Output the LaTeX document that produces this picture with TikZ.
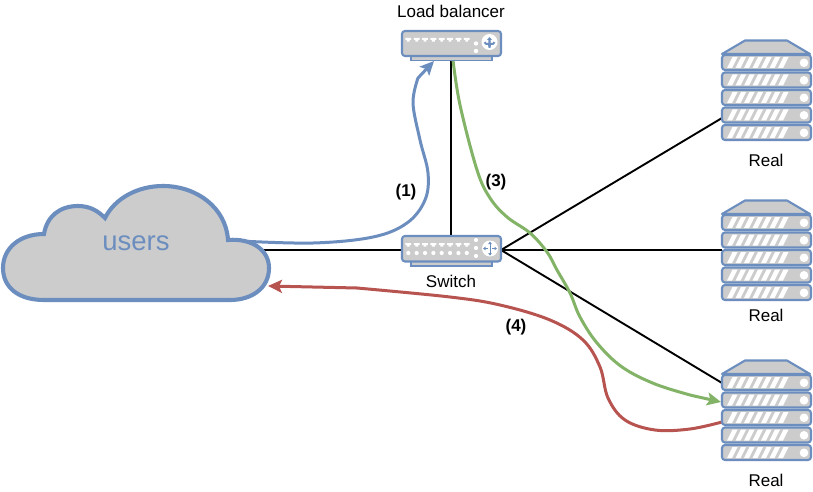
\documentclass[tikz,border=0pt]{standalone}
\usepackage{fontspec}
\setmainfont{Liberation Sans}
\usetikzlibrary{arrows.meta,bending}
\definecolor{bl}{HTML}{6C8EBF}
\definecolor{gr}{HTML}{82B366}
\definecolor{rd}{HTML}{B85450}
\definecolor{fl}{HTML}{CCCCCC}
\tikzset{
  x=1pt,y=-1pt,
  lbl/.style={font=\fontsize{17}{19}\selectfont,inner sep=0pt,text=black},
  num/.style={font=\fontsize{17}{19}\selectfont\bfseries,inner sep=0pt,text=black},
  link/.style={black,line width=1.9pt},
  flow/.style={line width=3pt,line cap=round},
  tip/.style={-{Stealth[length=14pt,width=13pt,inset=3pt]}},
  part/.style={fill=fl,draw=bl,line width=2.1pt,rounded corners=3pt},
  pics/rack/.style={code={
    \draw[fill=fl,draw=bl,line width=2.1pt,line join=round] (722,54)--(745,40.5)--(787,40.5)--(810,54)--cycle;
    \foreach \r in {0,...,4}{
      \pgfmathsetmacro{\yy}{55+17.5*\r}
      \draw[part] (722,\yy) rectangle (811,\yy+15);
      \foreach \k in {0,...,6}{
        \pgfmathsetmacro{\xx}{727+8.5*\k}
        \fill[white] (\xx,\yy+13)--(\xx+5.5,\yy+2)--(\xx+10.5,\yy+2)--(\xx+5,\yy+13)--cycle;
      }
      \fill[white] (804,\yy+7.8) circle[radius=4.3];
    }
  }},
  pics/ports/.style={code={
    \foreach \k in {0,...,7}{
      \pgfmathsetmacro{\xx}{408.3+8.35*\k}
      \fill[white] (\xx-2.9,0)--(\xx+2.9,0)--(\xx+2.9,2)--(\xx+1.4,2)--(\xx+1.4,3.6)--(\xx-1.4,3.6)--(\xx-1.4,2)--(\xx-2.9,2)--cycle;
    }
  }},
}
\begin{document}
\begin{tikzpicture}
\useasboundingbox (0,0) rectangle (813,492);
\fill[white] (0,0) rectangle (813,492);
% anchors
\coordinate (lbS) at (451,60);
\coordinate (swN) at (451,235);
\coordinate (swW) at (402,250);
\coordinate (swE) at (501,250);
\coordinate (cloudE) at (262,250);
\coordinate (realA) at (722,118);
\coordinate (realB) at (722,250);
\coordinate (realC) at (722,383);
\coordinate (cloudFlow) at (240,241);
\coordinate (lbFlow) at (434,61);
\coordinate (lbOut) at (453,60);
\coordinate (realIn) at (721,402);
\coordinate (realOut) at (722,422);
\coordinate (cloudIn) at (268,286);
\coordinate (blueBend) at (418,78);
\coordinate (greenBend) at (692,395.5);
\coordinate (redBend) at (357,288);
% black links
\draw[link] (lbS)--(swN);
\draw[link] (cloudE)--(swW);
\draw[link] (swE)--(realA);
\draw[link] (swE)--(realB);
\draw[link] (swE)--(realC);
% blue flow
\draw[flow,bl] plot[smooth,tension=.6] coordinates {(cloudFlow) (313,243) (373,237) (407,223) (425,200) (428,173) (420,140) (413,103) (blueBend)};
\draw[flow,bl,tip] (blueBend) -- (lbFlow);
% green flow
\draw[flow,gr] plot[smooth,tension=.6] coordinates {(lbOut) (460,105) (477,170) (490,198) (507,217) (530,233) (547,252) (557,270) (570,293) (580,317) (597,343) (622,367) (655,384) (greenBend)};
\draw[flow,gr,tip] (greenBend) -- (realIn);
% red flow
\draw[flow,rd] plot[smooth,tension=.6] coordinates {(realOut) (690,429) (655,430) (625,420) (608,398) (600,367) (583,340) (550,320) (500,305) (450,297) (redBend)};
\draw[flow,rd,tip] (redBend) -- (cloudIn);
% cloud
\draw[fill=fl,draw=bl,line width=4.1pt,line join=miter]
  (44,300) .. controls (18,300) and (3,287) .. (3,268)
  .. controls (3,248) and (20,234) .. (44,234)
  .. controls (47,216) and (60,206) .. (78,206)
  .. controls (90,206) and (98,211) .. (105,218)
  .. controls (115,198) and (138,186) .. (163,186)
  .. controls (197,186) and (226,208) .. (228,240)
  .. controls (252,238) and (269,250) .. (269,268)
  .. controls (269,288) and (252,300) .. (230,300) -- cycle;
\node[inner sep=0pt,text=bl,font=\fontsize{27.5}{30}\selectfont] (users) at (136,243) {users};
% load balancer
\draw[fill=fl,draw=bl,line width=1.6pt] (411,56) rectangle (492,60.5);
\draw[part] (402,31) rectangle (501,56);
\pic at (0,38) {ports};
\fill[white] (476,43.5) circle[radius=2.2] (476,51) circle[radius=2.2];
\fill[white] (489.5,42) circle[radius=8];
\fill[bl] (489.5,37) -- (487,40) -- (488.4,40) -- (488.4,43) -- (486,43) -- (486,41.5) -- (483.5,42.8) -- (486,45) -- (488,45) -- (488.6,48) -- (490.4,48) -- (491,45) -- (493,45) -- (495.5,42.8) -- (493,41.5) -- (493,43) -- (490.6,43) -- (490.6,40) -- (492,40) -- cycle;
\node[lbl] (lbLabel) at (451,11.5) {Load balancer};
% switch
\draw[fill=fl,draw=bl,line width=1.6pt] (411,261.5) rectangle (492,266);
\draw[part] (402,236) rectangle (501,261.5);
\pic at (0,243) {ports};
\foreach \k in {0,...,7}{\fill[white] ({408.3+8.35*\k},253) circle[radius=2.1];}
\fill[white] (476,240) circle[radius=2.1] (476,248) circle[radius=2.1] (476,256) circle[radius=2.1];
\fill[white] (490,248.5) circle[radius=8];
\draw[bl,line width=.8pt] (490,242.5)--(490,254.5) (484,248.5)--(488,248.5) (492,248.5)--(496,248.5);
\fill[bl] (490,241.5)--(488.2,244)--(491.8,244)--cycle (490,255.5)--(488.2,253)--(491.8,253)--cycle
  (483,248.5)--(485.5,246.7)--(485.5,250.3)--cycle (497,248.5)--(494.5,246.7)--(494.5,250.3)--cycle;
\node[lbl] (swLabel) at (451,281) {Switch};
% racks
\pic at (0,0) {rack};
\pic at (0,160) {rack};
\pic at (0,320) {rack};
\node[lbl] (realLabelA) at (766,160.5) {Real};
\node[lbl] (realLabelB) at (766,315.5) {Real};
\node[lbl] (realLabelC) at (766,480.5) {Real};
\node[num] (one) at (406,192) {(1)};
\node[num] (three) at (496,182) {(3)};
\node[num] (four) at (516,327) {(4)};
\end{tikzpicture}
\end{document}
